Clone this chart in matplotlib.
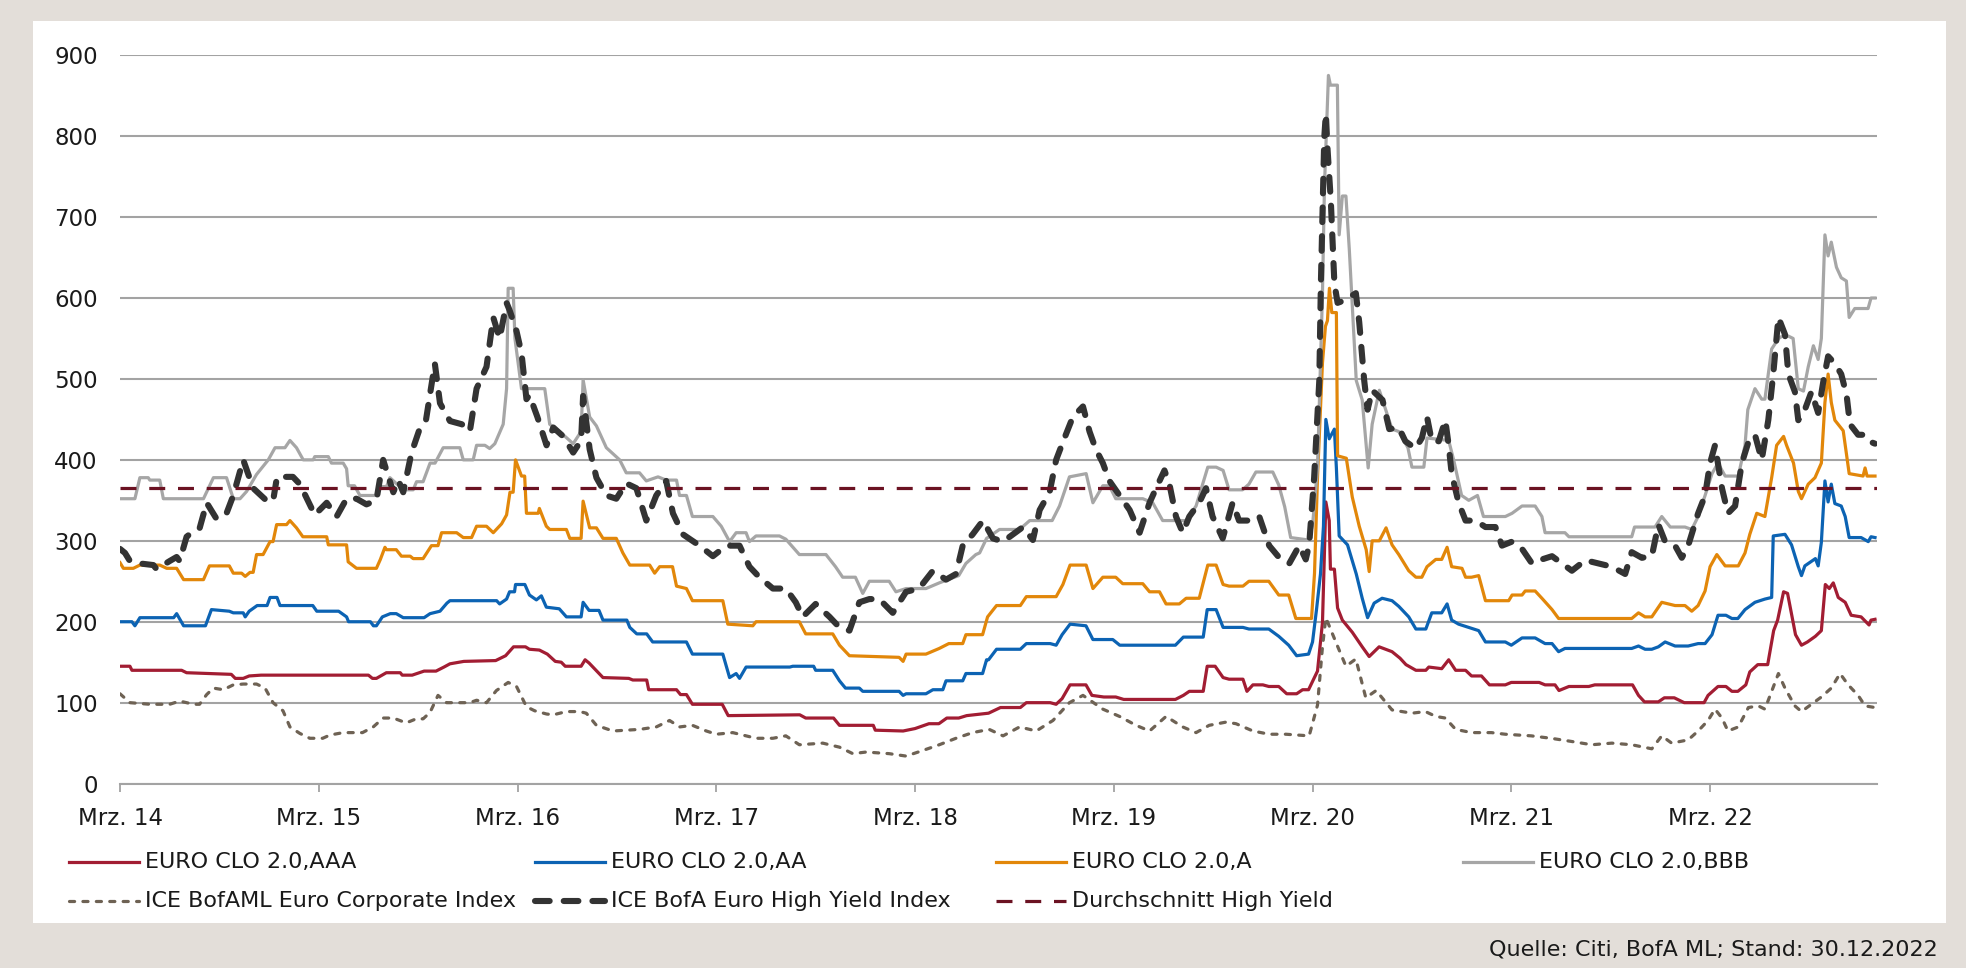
import matplotlib
matplotlib.use("Agg")
import matplotlib.pyplot as plt
from matplotlib.lines import Line2D
from matplotlib.patches import Rectangle

plt.rcParams['font.family'] = ['DejaVu Sans']

# time axis: years since March 2014
TICK_LABELS = ["Mrz. 14", "Mrz. 15", "Mrz. 16", "Mrz. 17", "Mrz. 18",
               "Mrz. 19", "Mrz. 20", "Mrz. 21", "Mrz. 22"]
Y_TICKS = [0, 100, 200, 300, 400, 500, 600, 700, 800, 900]
HY_AVERAGE = 365

AAA = [(0,145),(0.05,145),(0.06,140),(0.31,140),(0.335,137),(0.45,136),(0.56,135),(0.58,130),(0.62,130),(0.65,133),(0.71,134),(1.25,134),(1.27,130),(1.29,130),(1.34,137),(1.41,137),(1.42,134),(1.47,134),(1.53,139),(1.59,139),(1.63,144),(1.66,148),(1.73,151),(1.89,152),(1.94,158),(1.98,169),(2.04,169),(2.06,166),(2.11,165),(2.15,160),(2.19,151),(2.22,150),(2.24,145),(2.32,145),(2.34,153),(2.36,149),(2.43,131),(2.56,130),(2.58,128),(2.65,128),(2.66,116),(2.80,116),(2.82,110),(2.85,110),(2.88,98),(3.03,98),(3.06,84),(3.42,85),(3.45,81),(3.59,81),(3.62,72),(3.79,72),(3.80,66),(3.94,65),(4.00,68),(4.07,74),(4.12,74),(4.16,81),(4.22,81),(4.26,84),(4.37,87),(4.43,94),(4.53,94),(4.56,100),(4.68,100),(4.71,98),(4.74,105),(4.78,122),(4.86,122),(4.89,109),(4.95,107),(5.01,107),(5.05,104),(5.31,104),(5.35,109),(5.38,114),(5.45,114),(5.47,145),(5.51,145),(5.55,131),(5.58,129),(5.65,129),(5.67,114),(5.70,122),(5.75,122),(5.78,120),(5.83,120),(5.87,111),(5.92,111),(5.95,116),(5.98,116),(6.025,139),(6.05,199),(6.067,348),(6.084,325),(6.09,265),(6.11,265),(6.126,217),(6.15,202),(6.20,187),(6.25,169),(6.285,157),(6.335,169),(6.40,163),(6.44,155),(6.47,147),(6.52,140),(6.57,140),(6.585,144),(6.65,142),(6.685,153),(6.72,140),(6.77,140),(6.80,133),(6.85,133),(6.89,122),(6.97,122),(7.00,125),(7.14,125),(7.17,122),(7.22,122),(7.24,115),(7.29,120),(7.39,120),(7.42,122),(7.61,122),(7.64,109),(7.67,101),(7.74,101),(7.77,106),(7.82,106),(7.87,100),(7.97,100),(7.99,109),(8.04,120),(8.08,120),(8.11,114),(8.14,114),(8.18,122),(8.20,138),(8.24,147),(8.29,147),(8.32,189),(8.34,202),(8.37,237),(8.39,235),(8.43,184),(8.46,171),(8.49,175),(8.53,182),(8.56,189),(8.58,246),(8.60,241),(8.62,248),(8.645,230),(8.68,224),(8.71,208),(8.76,206),(8.80,196),(8.81,202),(8.83,203)]

AA = [(0,200),(0.06,200),(0.075,195),(0.10,205),(0.27,205),(0.285,210),(0.32,195),(0.43,195),(0.46,215),(0.55,213),(0.57,211),(0.62,211),(0.63,206),(0.65,213),(0.69,220),(0.74,220),(0.755,230),(0.79,230),(0.805,220),(0.97,220),(0.99,213),(1.10,213),(1.14,206),(1.15,200),(1.26,200),(1.275,195),(1.29,195),(1.32,206),(1.36,210),(1.39,210),(1.425,205),(1.53,205),(1.56,210),(1.61,213),(1.645,223),(1.66,226),(1.895,226),(1.91,222),(1.945,228),(1.96,237),(1.985,237),(1.99,246),(2.037,246),(2.06,233),(2.095,227),(2.12,232),(2.145,218),(2.21,216),(2.246,206),(2.32,206),(2.33,224),(2.36,214),(2.41,214),(2.43,202),(2.55,202),(2.565,193),(2.60,185),(2.65,185),(2.68,175),(2.85,175),(2.88,160),(3.033,160),(3.067,131),(3.10,136),(3.117,130),(3.15,144),(3.37,144),(3.385,145),(3.49,145),(3.50,140),(3.586,140),(3.62,127),(3.65,118),(3.72,118),(3.737,114),(3.92,114),(3.94,109),(3.955,111),(4.055,111),(4.09,116),(4.14,116),(4.156,127),(4.24,127),(4.256,136),(4.34,136),(4.36,153),(4.37,153),(4.41,166),(4.53,166),(4.56,173),(4.68,173),(4.71,171),(4.74,184),(4.78,197),(4.86,195),(4.895,178),(4.995,178),(5.03,171),(5.31,171),(5.35,181),(5.45,181),(5.47,215),(5.515,215),(5.55,193),(5.65,193),(5.68,191),(5.78,191),(5.83,182),(5.88,171),(5.92,158),(5.98,160),(6.0,175),(6.02,215),(6.04,259),(6.055,318),(6.067,450),(6.084,426),(6.11,438),(6.12,390),(6.134,306),(6.176,295),(6.22,259),(6.25,229),(6.277,205),(6.31,223),(6.35,229),(6.40,226),(6.434,219),(6.484,206),(6.52,191),(6.57,191),(6.60,211),(6.65,211),(6.677,222),(6.70,202),(6.735,197),(6.786,193),(6.836,189),(6.87,175),(6.97,175),(7.00,171),(7.054,180),(7.12,180),(7.17,173),(7.205,173),(7.238,163),(7.27,167),(7.606,167),(7.64,170),(7.673,166),(7.707,166),(7.74,169),(7.774,175),(7.824,170),(7.89,170),(7.94,173),(7.975,173),(8.01,184),(8.04,208),(8.08,208),(8.11,204),(8.14,204),(8.176,215),(8.226,224),(8.276,228),(8.31,230),(8.318,306),(8.377,308),(8.41,295),(8.444,268),(8.46,257),(8.477,269),(8.53,278),(8.544,269),(8.56,298),(8.578,374),(8.594,348),(8.61,370),(8.628,346),(8.66,343),(8.68,330),(8.70,304),(8.76,304),(8.796,299),(8.81,305),(8.83,304)]

A = [(0,273),(0.017,266),(0.067,266),(0.10,270),(0.20,270),(0.235,266),(0.285,266),(0.32,252),(0.42,252),(0.45,269),(0.55,269),(0.57,260),(0.612,260),(0.63,256),(0.654,261),(0.67,261),(0.687,283),(0.72,283),(0.755,299),(0.77,299),(0.788,320),(0.838,320),(0.855,325),(0.888,316),(0.92,305),(1.04,305),(1.048,295),(1.14,295),(1.148,274),(1.19,266),(1.29,266),(1.31,277),(1.333,292),(1.34,289),(1.39,289),(1.416,281),(1.46,281),(1.475,278),(1.525,278),(1.567,294),(1.60,294),(1.618,310),(1.694,310),(1.727,304),(1.769,304),(1.794,318),(1.844,318),(1.878,310),(1.92,321),(1.945,332),(1.962,360),(1.978,360),(1.99,400),(2.02,380),(2.036,380),(2.045,334),(2.104,334),(2.11,340),(2.145,318),(2.162,314),(2.246,314),(2.263,303),(2.32,303),(2.33,349),(2.363,316),(2.397,316),(2.43,303),(2.497,303),(2.53,285),(2.565,270),(2.665,270),(2.69,260),(2.715,268),(2.78,268),(2.80,244),(2.85,241),(2.88,226),(3.033,226),(3.058,197),(3.184,195),(3.20,200),(3.418,200),(3.45,185),(3.586,185),(3.62,171),(3.67,158),(3.92,156),(3.94,151),(3.955,160),(4.055,160),(4.122,167),(4.17,173),(4.24,173),(4.256,184),(4.34,184),(4.365,206),(4.41,220),(4.53,220),(4.56,231),(4.71,231),(4.744,246),(4.78,270),(4.861,270),(4.895,241),(4.945,255),(5.01,255),(5.045,247),(5.146,247),(5.18,237),(5.23,237),(5.263,222),(5.33,222),(5.364,229),(5.43,229),(5.473,270),(5.515,270),(5.55,246),(5.58,244),(5.65,244),(5.68,250),(5.78,250),(5.83,233),(5.88,233),(5.916,204),(5.995,204),(6.01,260),(6.025,378),(6.05,520),(6.065,565),(6.075,572),(6.085,612),(6.097,582),(6.12,582),(6.126,405),(6.17,402),(6.20,354),(6.235,318),(6.27,289),(6.285,262),(6.30,300),(6.336,300),(6.37,316),(6.40,295),(6.434,283),(6.484,263),(6.52,255),(6.55,255),(6.576,268),(6.62,277),(6.65,277),(6.677,292),(6.70,268),(6.752,266),(6.77,255),(6.80,255),(6.836,257),(6.87,226),(6.987,226),(7.004,233),(7.054,233),(7.07,238),(7.12,238),(7.154,229),(7.205,215),(7.238,204),(7.606,204),(7.64,211),(7.673,206),(7.707,206),(7.757,224),(7.824,220),(7.874,220),(7.908,213),(7.94,220),(7.975,238),(8.00,268),(8.034,283),(8.076,269),(8.142,269),(8.176,285),(8.20,308),(8.235,334),(8.276,330),(8.31,378),(8.335,418),(8.37,429),(8.385,418),(8.42,396),(8.444,361),(8.46,352),(8.494,370),(8.528,378),(8.56,396),(8.578,471),(8.594,506),(8.61,471),(8.628,449),(8.67,436),(8.70,383),(8.77,380),(8.78,390),(8.79,380),(8.83,380)]

BBB = [(0,352),(0.075,352),(0.10,378),(0.142,378),(0.15,375),(0.20,375),(0.218,352),(0.42,352),(0.47,378),(0.536,378),(0.57,352),(0.604,352),(0.637,361),(0.687,382),(0.746,400),(0.78,415),(0.83,415),(0.855,424),(0.888,415),(0.922,400),(0.972,400),(0.98,404),(1.048,404),(1.064,396),(1.123,396),(1.14,389),(1.148,368),(1.18,368),(1.207,356),(1.29,356),(1.308,367),(1.341,367),(1.358,378),(1.425,363),(1.475,363),(1.492,373),(1.525,373),(1.56,396),(1.585,396),(1.626,415),(1.71,415),(1.727,400),(1.777,400),(1.794,418),(1.836,418),(1.86,414),(1.886,420),(1.928,444),(1.945,488),(1.953,612),(1.978,612),(1.987,550),(2.02,488),(2.137,488),(2.162,444),(2.23,431),(2.28,420),(2.32,435),(2.33,499),(2.363,453),(2.397,442),(2.447,415),(2.514,400),(2.547,384),(2.614,384),(2.648,374),(2.707,379),(2.748,375),(2.80,375),(2.815,356),(2.85,356),(2.88,330),(2.983,330),(3.025,318),(3.067,299),(3.10,310),(3.15,310),(3.167,299),(3.20,306),(3.318,306),(3.35,302),(3.418,283),(3.552,283),(3.60,268),(3.636,255),(3.70,255),(3.737,235),(3.77,250),(3.87,250),(3.904,237),(3.955,241),(4.055,241),(4.122,248),(4.22,257),(4.256,272),(4.306,283),(4.325,285),(4.36,303),(4.425,314),(4.526,314),(4.577,325),(4.69,325),(4.727,343),(4.777,379),(4.861,383),(4.895,347),(4.945,368),(4.978,368),(5.01,352),(5.146,352),(5.196,347),(5.246,325),(5.364,325),(5.414,343),(5.473,391),(5.515,391),(5.55,387),(5.58,363),(5.648,363),(5.68,370),(5.715,385),(5.80,385),(5.83,369),(5.86,342),(5.89,304),(5.98,301),(6.0,319),(6.025,390),(6.05,606),(6.06,738),(6.08,875),(6.09,863),(6.125,863),(6.134,678),(6.15,726),(6.168,726),(6.185,660),(6.22,498),(6.25,474),(6.28,390),(6.30,444),(6.336,486),(6.40,438),(6.434,435),(6.48,415),(6.50,391),(6.56,391),(6.576,427),(6.685,424),(6.71,400),(6.75,356),(6.786,350),(6.83,356),(6.86,330),(6.97,330),(7.004,334),(7.054,343),(7.12,343),(7.154,330),(7.17,310),(7.27,310),(7.29,305),(7.606,305),(7.62,317),(7.723,317),(7.757,330),(7.80,317),(7.874,317),(7.908,314),(7.94,330),(7.975,356),(8.01,383),(8.04,396),(8.076,380),(8.142,380),(8.176,418),(8.19,462),(8.226,488),(8.26,475),(8.276,475),(8.31,537),(8.345,550),(8.377,555),(8.418,550),(8.444,488),(8.47,485),(8.494,515),(8.52,541),(8.544,524),(8.56,550),(8.578,678),(8.594,652),(8.61,669),(8.636,638),(8.66,625),(8.686,621),(8.70,576),(8.728,587),(8.795,587),(8.81,600),(8.83,600)]

CORP = [(0,111),(0.05,100),(0.15,98),(0.25,98),(0.30,102),(0.37,98),(0.40,98),(0.436,110),(0.47,118),(0.52,116),(0.57,122),(0.62,123),(0.687,123),(0.73,118),(0.77,100),(0.82,90),(0.855,70),(0.905,62),(0.955,56),(1.02,56),(1.056,60),(1.123,63),(1.22,63),(1.274,70),(1.324,81),(1.375,81),(1.44,75),(1.49,80),(1.525,80),(1.56,88),(1.60,109),(1.643,100),(1.76,100),(1.794,103),(1.844,100),(1.894,115),(1.953,125),(1.995,120),(2.045,95),(2.086,90),(2.146,86),(2.18,85),(2.246,89),(2.313,89),(2.346,87),(2.397,72),(2.48,65),(2.615,67),(2.698,70),(2.765,78),(2.815,70),(2.88,72),(2.95,65),(3.0,61),(3.083,63),(3.20,56),(3.285,56),(3.35,59),(3.418,48),(3.536,50),(3.62,45),(3.687,37),(3.754,39),(3.87,37),(3.955,34),(4.04,41),(4.122,48),(4.206,56),(4.29,63),(4.373,67),(4.443,59),(4.526,70),(4.61,65),(4.694,78),(4.777,100),(4.845,109),(4.945,92),(5.029,83),(5.112,72),(5.18,65),(5.263,83),(5.347,70),(5.414,63),(5.48,72),(5.565,76),(5.615,74),(5.70,65),(5.782,61),(5.866,61),(5.983,59),(6.025,97),(6.05,169),(6.067,205),(6.117,175),(6.168,145),(6.218,154),(6.268,106),(6.32,115),(6.40,91),(6.50,87),(6.568,89),(6.62,83),(6.668,81),(6.72,67),(6.80,63),(6.90,63),(6.97,61),(7.10,59),(7.20,56),(7.305,52),(7.405,48),(7.506,50),(7.606,48),(7.707,43),(7.757,59),(7.807,50),(7.89,54),(7.94,65),(7.99,78),(8.025,92),(8.06,81),(8.09,65),(8.142,70),(8.193,94),(8.243,96),(8.276,92),(8.31,114),(8.344,136),(8.377,118),(8.427,96),(8.46,89),(8.51,98),(8.56,107),(8.61,118),(8.654,136),(8.695,122),(8.745,109),(8.78,96),(8.83,94)]

HY = [(0,290),(0.025,285),(0.05,275),(0.10,272),(0.168,270),(0.184,265),(0.25,275),(0.285,280),(0.30,275),(0.335,305),(0.37,312),(0.40,315),(0.436,347),(0.486,327),(0.536,334),(0.57,356),(0.62,400),(0.67,365),(0.74,349),(0.77,349),(0.79,379),(0.87,379),(0.905,370),(0.98,332),(1.04,347),(1.09,330),(1.14,352),(1.19,352),(1.24,345),(1.29,350),(1.324,400),(1.375,360),(1.40,375),(1.425,360),(1.467,409),(1.51,440),(1.54,450),(1.584,519),(1.61,470),(1.66,448),(1.72,444),(1.76,435),(1.794,488),(1.844,515),(1.878,576),(1.91,550),(1.945,594),(1.96,585),(1.995,559),(2.02,532),(2.045,475),(2.06,480),(2.10,453),(2.146,418),(2.18,440),(2.23,429),(2.28,409),(2.32,424),(2.33,479),(2.363,413),(2.397,378),(2.447,356),(2.497,352),(2.547,371),(2.598,365),(2.648,325),(2.698,356),(2.748,374),(2.782,334),(2.832,308),(2.916,294),(2.983,281),(3.05,294),(3.117,294),(3.167,268),(3.217,255),(3.285,241),(3.35,241),(3.40,224),(3.435,206),(3.50,222),(3.57,206),(3.62,193),(3.67,189),(3.72,224),(3.77,228),(3.82,228),(3.888,211),(3.955,237),(4.02,241),(4.09,263),(4.156,252),(4.206,259),(4.24,294),(4.29,308),(4.342,325),(4.392,303),(4.443,299),(4.493,308),(4.543,317),(4.593,301),(4.627,338),(4.677,360),(4.71,400),(4.744,422),(4.794,453),(4.845,466),(4.878,435),(4.91,413),(4.945,396),(4.978,374),(5.029,356),(5.08,338),(5.13,310),(5.18,347),(5.213,365),(5.255,387),(5.28,370),(5.313,330),(5.347,310),(5.38,330),(5.43,347),(5.464,365),(5.497,330),(5.548,303),(5.598,347),(5.63,325),(5.70,325),(5.732,330),(5.782,294),(5.833,279),(5.883,272),(5.933,294),(5.966,277),(5.983,295),(6.008,378),(6.034,498),(6.042,618),(6.059,798),(6.067,828),(6.075,786),(6.092,720),(6.11,618),(6.126,594),(6.16,597),(6.218,606),(6.235,570),(6.26,498),(6.277,462),(6.30,486),(6.352,474),(6.386,438),(6.434,440),(6.467,423),(6.518,414),(6.55,427),(6.576,453),(6.60,423),(6.635,423),(6.668,449),(6.685,418),(6.70,383),(6.735,347),(6.77,325),(6.82,325),(6.87,317),(6.92,317),(6.953,294),(7.004,299),(7.054,290),(7.104,272),(7.154,277),(7.205,281),(7.255,272),(7.305,263),(7.372,276),(7.44,272),(7.506,268),(7.573,259),(7.606,286),(7.657,279),(7.707,281),(7.74,320),(7.774,299),(7.824,294),(7.858,279),(7.89,294),(7.94,334),(7.975,356),(8.00,396),(8.025,418),(8.06,365),(8.09,334),(8.126,343),(8.16,396),(8.193,422),(8.226,431),(8.26,400),(8.293,449),(8.318,506),(8.344,576),(8.377,555),(8.394,506),(8.427,484),(8.444,449),(8.477,462),(8.51,484),(8.544,458),(8.57,497),(8.594,528),(8.628,519),(8.66,506),(8.687,480),(8.704,444),(8.745,431),(8.78,431),(8.81,422),(8.83,420)]

SERIES = [
    ("EURO CLO 2.0,AAA", AAA, dict(color="#A21D33", lw=2.3)),
    ("EURO CLO 2.0,AA", AA, dict(color="#0C63B3", lw=2.3)),
    ("EURO CLO 2.0,A", A, dict(color="#E2870A", lw=2.3)),
    ("EURO CLO 2.0,BBB", BBB, dict(color="#A6A6A6", lw=2.3)),
    ("ICE BofAML Euro Corporate Index", CORP,
     dict(color="#6E6254", lw=2.3, dashes=(1.6, 2.6), dash_capstyle="round")),
    ("ICE BofA Euro High Yield Index", HY,
     dict(color="#333333", lw=4.4, dashes=(2.4, 2.3), dash_capstyle="round")),
]

W, H = 1966, 968
fig = plt.figure(figsize=(W / 100, H / 100), dpi=100)
fig.patch.set_facecolor("#E3DED9")
fig.add_artist(Rectangle((33 / W, 1 - 923 / H), (1946 - 33) / W, (923 - 21) / H,
                         transform=fig.transFigure, facecolor="white",
                         edgecolor="none", zorder=-10))

ax = fig.add_axes([120 / W, 1 - 783.6 / H, (1877 - 120) / W, (783.6 - 55.2) / H])
ax.set_facecolor("none")
ax.set_zorder(1)

handles = []
for name, data, style in SERIES:
    t = [p[0] for p in data]
    v = [p[1] for p in data]
    ax.plot(t, v, label=name, solid_joinstyle="round", **style)
    handles.append((name, style))

avg_style = dict(color="#6B1222", lw=2.3, dashes=(5.0, 4.0))
ax.plot([0, 8.84], [HY_AVERAGE, HY_AVERAGE], **avg_style)
handles.append(("Durchschnitt High Yield", avg_style))

ax.set_xlim(0, 8.84)
ax.set_ylim(0, 900)
ax.set_yticks(Y_TICKS)
ax.set_xticks(range(len(TICK_LABELS)))
ax.set_xticklabels(TICK_LABELS)
ax.grid(axis="y", color="#A3A3A3", lw=1.5)
ax.set_axisbelow(True)
for s in ["top", "right", "left"]:
    ax.spines[s].set_visible(False)
ax.spines["bottom"].set_color("#A3A3A3")
ax.spines["bottom"].set_linewidth(1.5)
ax.tick_params(axis="y", length=0, pad=16, labelsize=16.5, labelcolor="#1A1A1A")
ax.tick_params(axis="x", length=6, width=1.3, color="#A3A3A3", pad=11,
               labelsize=16.5, labelcolor="#1A1A1A")

# legend (drawn in figure pixel positions)
col_x = [69, 535, 996, 1463]
row_y = [862, 901]
order = [(0, 0), (0, 1), (0, 2), (0, 3), (1, 0), (1, 1), (1, 2)]
for (name, style), (r, c) in zip(handles, order):
    x0 = col_x[c]
    y = 1 - row_y[r] / H
    st = dict(style)
    lw = st.pop("lw")
    fig.add_artist(Line2D([x0 / W, (x0 + 70) / W], [y, y], transform=fig.transFigure,
                          lw=lw, **st))
    fig.text((x0 + 76) / W, y, name, ha="left", va="center", fontsize=16,
             color="#1A1A1A")

fig.text(1938 / W, 1 - 950 / H, "Quelle: Citi, BofA ML; Stand: 30.12.2022",
         ha="right", va="center", fontsize=16, color="#1A1A1A")

fig.savefig("out.png", dpi=100, facecolor=fig.get_facecolor())
